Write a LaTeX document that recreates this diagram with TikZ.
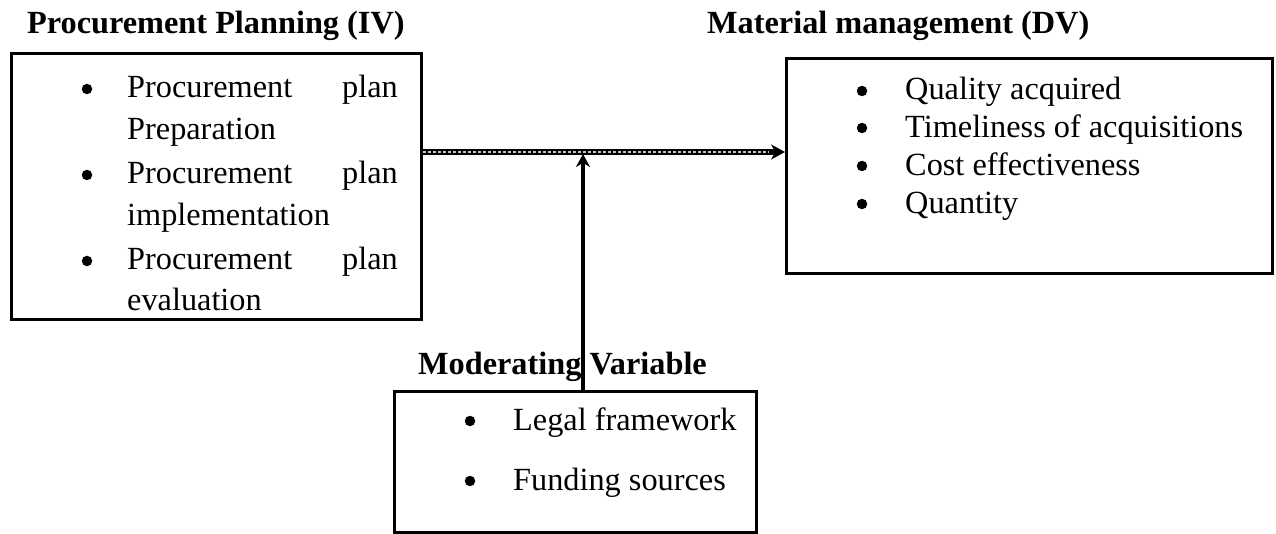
\documentclass[tikz,border=0pt]{standalone}
\usepackage{fontspec}
\setmainfont{Liberation Serif}
\usetikzlibrary{arrows.meta}
\begin{document}
\begin{tikzpicture}[x=1pt,y=-1pt,
  box/.style={draw,line width=3pt,inner sep=0pt,anchor=north west},
  ttl/.style={font=\fontsize{32.3}{38}\selectfont\bfseries,inner sep=0pt,anchor=base west},
  itm/.style={font=\fontsize{32.3}{38}\selectfont,inner sep=0pt,anchor=base west},
  itr/.style={font=\fontsize{32.3}{38}\selectfont,inner sep=0pt,anchor=base east},
  bul/.style={circle,fill=black,inner sep=0pt,minimum size=10.5pt}]
\useasboundingbox (0,0) rectangle (1276,534);
% boxes
\node[box,minimum width=410pt,minimum height=266pt] (iv) at (10,52) {};
\node[box,minimum width=486pt,minimum height=215pt] (dv) at (785,57) {};
\node[box,minimum width=362pt,minimum height=141pt] (mv) at (393,390) {};
% titles
\node[ttl] (tiv) at (27,34) {Procurement Planning (IV)};
\node[ttl] (tdv) at (707,34) {Material management (DV)};
\node[ttl] (tmv) at (418,374) {Moderating Variable};
% IV items
\node[bul] (b1) at (87,89) {};
\node[itm] (i1a) at (127,98) {Procurement};
\node[itr] (i1b) at (398,98) {plan};
\node[itm] (i1c) at (127,140) {Preparation};
\node[bul] (b2) at (87,175) {};
\node[itm] (i2a) at (127,184) {Procurement};
\node[itr] (i2b) at (398,184) {plan};
\node[itm] (i2c) at (127,226) {implementation};
\node[bul] (b3) at (87,261) {};
\node[itm] (i3a) at (127,270) {Procurement};
\node[itr] (i3b) at (398,270) {plan};
\node[itm] (i3c) at (127,311) {evaluation};
% DV items
\node[bul] (d1) at (862,91) {};
\node[itm] (j1) at (905,100) {Quality acquired};
\node[bul] (d2) at (862,128) {};
\node[itm] (j2) at (905,138) {Timeliness of acquisitions};
\node[bul] (d3) at (862,166) {};
\node[itm] (j3) at (905,176) {Cost effectiveness};
\node[bul] (d4) at (862,204) {};
\node[itm] (j4) at (905,214) {Quantity};
% MV items
\node[bul] (m1) at (470,421) {};
\node[itm] (k1) at (513,430) {Legal framework};
\node[bul] (m2) at (470,481) {};
\node[itm] (k2) at (513,490) {Funding sources};
% connectors
\coordinate (hy) at (600,152);
\coordinate (vx) at (583,152);
\draw[line width=6pt,-{Stealth[length=14pt,width=15pt]}] (iv.east |- hy) -- (dv.west |- hy);
\draw[line width=1.4pt,gray!45,dash pattern=on 3pt off 2pt] (iv.east |- hy) -- ([xshift=-16pt]dv.west |- hy);
\draw[line width=4pt,-{Stealth[length=13pt,width=14pt]}] (mv.north -| vx) -- ([yshift=-2pt]vx);
\end{tikzpicture}
\end{document}
